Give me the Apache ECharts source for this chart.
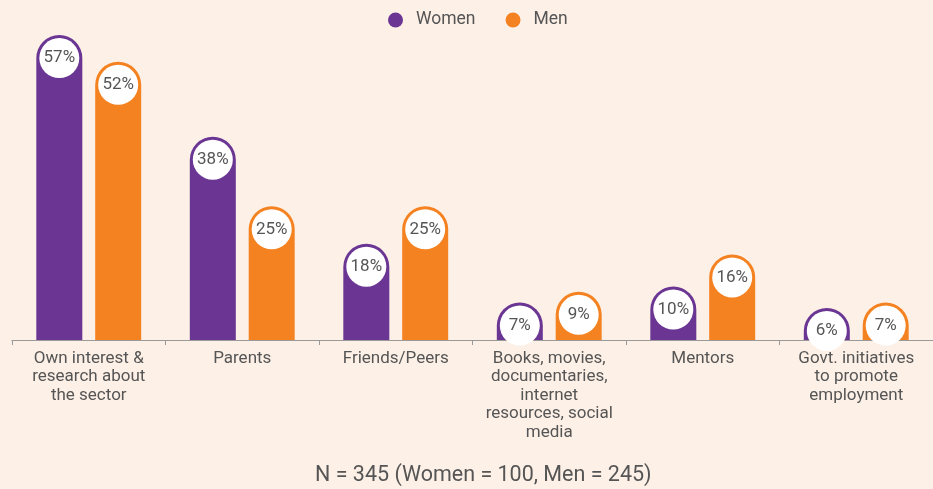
<!DOCTYPE html>
<html>
<head>
<meta charset="UTF-8">
<script src="https://cdn.jsdelivr.net/npm/echarts@6/dist/echarts.min.js"></script>
<style>
  html, body { margin: 0; padding: 0; background: #fdf0e7; }
  #main { width: 933px; height: 489px; }
</style>
</head>
<body>
<div id="main"></div>
<script>
var categories = [
  'Own interest &\nresearch about\nthe sector',
  'Parents',
  'Friends/Peers',
  'Books, movies,\ndocumentaries,\ninternet\nresources, social\nmedia',
  'Mentors',
  'Govt. initiatives\nto promote\nemployment'
];
var women = [57, 38, 18, 7, 10, 6];
var men = [52, 25, 25, 9, 16, 7];

var chart = echarts.init(document.getElementById('main'));

function valueLabel() {
  return {
    show: true,
    position: 'insideTop',
    distance: 3,
    formatter: '{c}%',
    backgroundColor: '#fff',
    width: 40,
    height: 40,
    borderRadius: 20,
    lineHeight: 40,
    align: 'center',
    color: '#555',
    fontSize: 17,
    fontFamily: 'Roboto'
  };
}

chart.setOption({
  backgroundColor: '#fdf0e7',
  textStyle: { fontFamily: 'Roboto' },
  legend: {
    top: 6,
    left: 383,
    padding: 5,
    icon: 'circle',
    itemWidth: 15,
    itemHeight: 15,
    itemGap: 30,
    textStyle: { color: '#555', fontSize: 17.5, padding: [0, 0, 0, 8] },
    data: ['Women', 'Men']
  },
  title: {
    text: 'N = 345 (Women = 100, Men = 245)',
    left: 310,
    top: 460,
    textStyle: { color: '#555', fontSize: 21.5, fontWeight: 'normal' }
  },
  grid: { left: 12, width: 930, top: 19, bottom: 149, containLabel: false },
  xAxis: {
    type: 'category',
    data: categories,
    axisLine: { lineStyle: { color: '#999' } },
    axisTick: { show: true, length: 5, lineStyle: { color: '#999' } },
    axisLabel: { color: '#555', fontSize: 17, lineHeight: 18.5, margin: 9, interval: 0 }
  },
  yAxis: {
    type: 'value',
    min: 0,
    max: 60,
    show: false
  },
  series: [
    {
      name: 'Women',
      type: 'bar',
      data: women,
      barWidth: 46,
      barGap: '28%',
      itemStyle: { color: '#6b3693', borderRadius: [23, 23, 0, 0] },
      label: valueLabel()
    },
    {
      name: 'Men',
      type: 'bar',
      data: men,
      barWidth: 46,
      itemStyle: { color: '#f58220', borderRadius: [23, 23, 0, 0] },
      label: valueLabel()
    }
  ]
});
</script>
</body>
</html>
